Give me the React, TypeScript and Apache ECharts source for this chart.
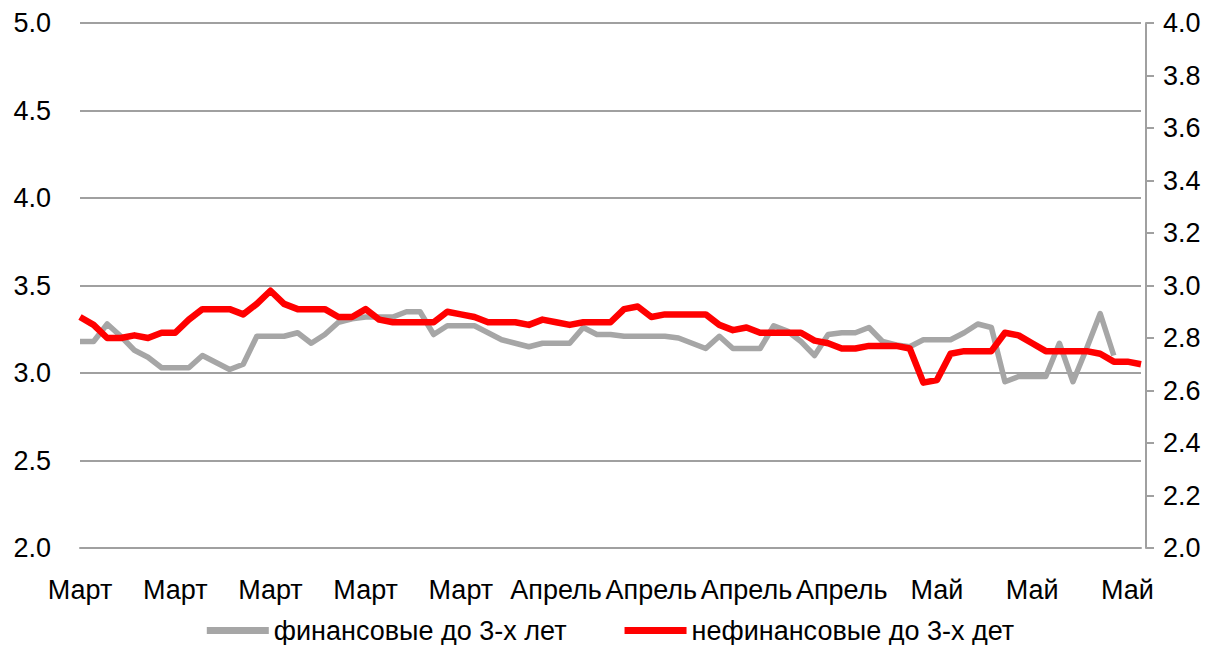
import React, { useEffect, useRef } from "react";
import * as echarts from "echarts";

const monthNames = ["Март", "Апрель", "Май"];
const monthCounts = [35, 28, 16];

const financial = [
  3.18, 3.18, 3.28, 3.21, 3.13, 3.09, 3.03, 3.03, 3.03, 3.10,
  3.06, 3.02, 3.05, 3.21, 3.21, 3.21, 3.23, 3.17, 3.22, 3.29,
  3.31, 3.32, 3.32, 3.32, 3.35, 3.35, 3.22, 3.27, 3.27, 3.27,
  3.23, 3.19, 3.17, 3.15, 3.17, 3.17, 3.17, 3.26, 3.22, 3.22,
  3.21, 3.21, 3.21, 3.21, 3.20, 3.17, 3.14, 3.21, 3.14, 3.14,
  3.14, 3.27, 3.24, 3.18, 3.10, 3.22, 3.23, 3.23, 3.26, 3.18,
  3.16, 3.15, 3.19, 3.19, 3.19, 3.23, 3.28, 3.26, 2.95, 2.98,
  2.98, 2.98, 3.17, 2.95, 3.14, 3.34, 3.10,
];

const nonFinancial = [
  2.88, 2.85, 2.80, 2.80, 2.81, 2.80, 2.82, 2.82, 2.87, 2.91,
  2.91, 2.91, 2.89, 2.93, 2.98, 2.93, 2.91, 2.91, 2.91, 2.88,
  2.88, 2.91, 2.87, 2.86, 2.86, 2.86, 2.86, 2.90, 2.89, 2.88,
  2.86, 2.86, 2.86, 2.85, 2.87, 2.86, 2.85, 2.86, 2.86, 2.86,
  2.91, 2.92, 2.88, 2.89, 2.89, 2.89, 2.89, 2.85, 2.83, 2.84,
  2.82, 2.82, 2.82, 2.82, 2.79, 2.78, 2.76, 2.76, 2.77, 2.77,
  2.77, 2.76, 2.63, 2.64, 2.74, 2.75, 2.75, 2.75, 2.82, 2.81,
  2.78, 2.75, 2.75, 2.75, 2.75, 2.74, 2.71, 2.71, 2.70,
];

const seriesNames = ["финансовые до 3-х лет", "нефинансовые до 3-х дет"];

const categories: string[] = [];
monthNames.forEach((m, i) => {
  for (let k = 0; k < monthCounts[i]; k++) categories.push(m);
});

const FONT = "'Liberation Sans', Arial, sans-serif";
const GRID = "#a0a0a0";
const FS = 27;

export default function App() {
  const ref = useRef<HTMLDivElement>(null);
  useEffect(() => {
    if (!ref.current) return;
    const chart = echarts.init(ref.current, undefined, { renderer: "svg" });
    chart.setOption({
      animation: false,
      backgroundColor: "#ffffff",
      textStyle: { fontFamily: FONT },
      grid: { left: 80, right: 80, top: 23, bottom: 97, containLabel: false },
      legend: {
        top: 617,
        left: "center",
        padding: 0,
        icon: "rect",
        itemWidth: 62,
        itemHeight: 7,
        itemGap: 58,
        textStyle: { fontFamily: FONT, fontSize: FS, lineHeight: 26, color: "#000" },
        data: seriesNames,
      },
      xAxis: {
        type: "category",
        data: categories,
        boundaryGap: false,
        axisLine: { show: true, lineStyle: { color: GRID, width: 2 } },
        axisTick: { show: false },
        axisLabel: {
          interval: 6,
          margin: 28,
          fontSize: FS,
          fontFamily: FONT,
          color: "#000",
        },
        splitLine: { show: false },
      },
      yAxis: [
        {
          type: "value",
          min: 2,
          max: 5,
          interval: 0.5,
          position: "left",
          axisLine: { show: false },
          axisTick: { show: false },
          axisLabel: {
            margin: 29,
            fontSize: FS,
            fontFamily: FONT,
            color: "#000",
            formatter: (v: number) => v.toFixed(1),
          },
          splitLine: { show: true, lineStyle: { color: GRID, width: 2 } },
        },
        {
          type: "value",
          min: 2,
          max: 4,
          interval: 0.2,
          position: "right",
          offset: 5,
          axisLine: { show: true, lineStyle: { color: GRID, width: 2 } },
          axisTick: { show: true, inside: false, length: 8, lineStyle: { color: GRID, width: 2 } },
          axisLabel: {
            margin: 17,
            fontSize: FS,
            fontFamily: FONT,
            color: "#000",
            formatter: (v: number) => v.toFixed(1),
          },
          splitLine: { show: false },
        },
      ],
      series: [
        {
          name: seriesNames[0],
          type: "line",
          yAxisIndex: 0,
          data: financial,
          showSymbol: false,
          symbol: "none",
          lineStyle: { color: "#a6a6a6", width: 5.5, join: "round" },
          itemStyle: { color: "#a6a6a6" },
        },
        {
          name: seriesNames[1],
          type: "line",
          yAxisIndex: 1,
          data: nonFinancial,
          showSymbol: false,
          symbol: "none",
          lineStyle: { color: "#ff0000", width: 6.5, join: "round" },
          itemStyle: { color: "#ff0000" },
        },
      ],
    });
    return () => chart.dispose();
  }, []);
  return (
    <div
      ref={ref}
      style={{ position: "fixed", left: 0, top: 0, width: 1221, height: 645, background: "#fff" }}
    />
  );
}
